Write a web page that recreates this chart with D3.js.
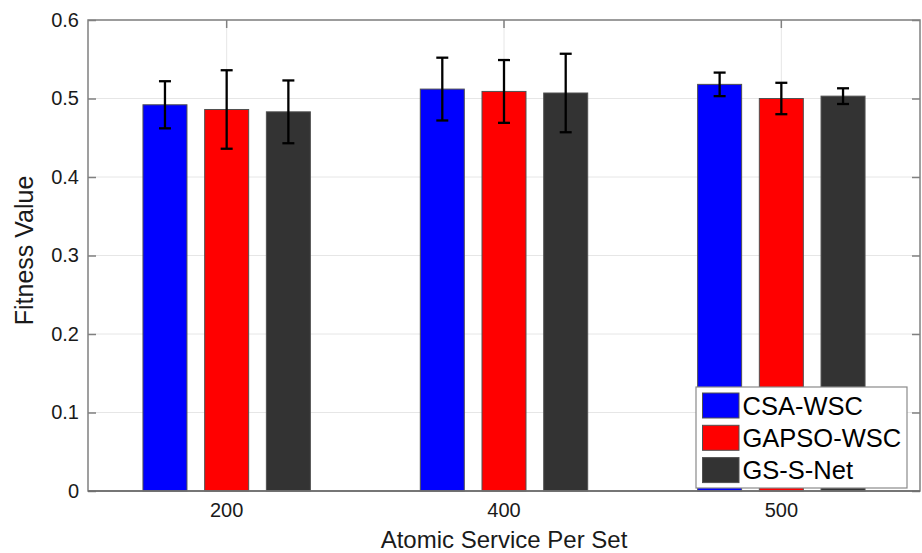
<!DOCTYPE html>
<html>
<head>
<meta charset="utf-8">
<script src="https://cdn.jsdelivr.net/npm/d3@7"></script>
<style>
  html, body { margin: 0; padding: 0; background: #fff; }
  svg { display: block; font-family: "Liberation Sans", Arial, sans-serif; }
</style>
</head>
<body>
<svg id="chart" width="922" height="553"></svg>
<script>
// ---- data ----
const categories = ["200", "400", "500"];
const seriesNames = ["CSA-WSC", "GAPSO-WSC", "GS-S-Net"];
const csaValues   = [0.492, 0.512, 0.518];
const gapsoValues = [0.486, 0.509, 0.500];
const gssValues   = [0.483, 0.507, 0.503];
const csaErrors   = [0.030, 0.040, 0.015];
const gapsoErrors = [0.050, 0.040, 0.020];
const gssErrors   = [0.040, 0.050, 0.010];
const yTicks = [0, 0.1, 0.2, 0.3, 0.4, 0.5, 0.6];
const seriesColors = ["#0000ff", "#ff0000", "#333333"];

const seriesValues = [csaValues, gapsoValues, gssValues];
const seriesErrors = [csaErrors, gapsoErrors, gssErrors];

const svg = d3.select("#chart");
const margin = { left: 88, top: 20, right: 2, bottom: 62 };
const W = 922, H = 553;
const plotL = margin.left, plotR = W - margin.right, plotT = margin.top, plotB = H - margin.bottom;

const x = d3.scaleBand().domain(categories).range([plotL, plotR]).paddingInner(0).paddingOuter(0);
const groupHalf = 83.7;
const xSub = d3.scaleBand().domain(seriesNames).range([-groupHalf, groupHalf]).paddingInner(0.287).paddingOuter(0);
const y = d3.scaleLinear().domain([0, 0.6]).range([plotB, plotT]);

const axisColor = "#808080";
const gridColor = "#e6e6e6";

// grid
const grid = svg.append("g");
grid.selectAll("line.h").data(yTicks).join("line")
  .attr("x1", plotL).attr("x2", plotR)
  .attr("y1", d => y(d)).attr("y2", d => y(d))
  .attr("stroke", gridColor).attr("stroke-width", 1);
grid.selectAll("line.v").data(categories).join("line")
  .attr("x1", d => x(d) + x.bandwidth() / 2).attr("x2", d => x(d) + x.bandwidth() / 2)
  .attr("y1", plotT).attr("y2", plotB)
  .attr("stroke", gridColor).attr("stroke-width", 1);

// axes (ticks inward)
const yAxisL = d3.axisLeft(y).tickValues(yTicks).tickSizeInner(-8).tickSizeOuter(0).tickPadding(9)
  .tickFormat(d => d === 0 ? "0" : d3.format(".1f")(d));
const gy = svg.append("g").attr("transform", `translate(${plotL},0)`).call(yAxisL);
const yAxisR = d3.axisRight(y).tickValues(yTicks).tickSizeInner(-8).tickSizeOuter(0).tickFormat("");
const gyr = svg.append("g").attr("transform", `translate(${plotR},0)`).call(yAxisR);
const xAxisB = d3.axisBottom(x).tickSizeInner(-8).tickSizeOuter(0).tickPadding(12);
const gx = svg.append("g").attr("transform", `translate(0,${plotB})`).call(xAxisB);
const xAxisT = d3.axisTop(x).tickSizeInner(-8).tickSizeOuter(0).tickFormat("");
const gxt = svg.append("g").attr("transform", `translate(0,${plotT})`).call(xAxisT);

[gy, gyr, gx, gxt].forEach(g => {
  g.select(".domain").remove();
  g.selectAll(".tick line").attr("stroke", axisColor).attr("stroke-width", 1.5);
  g.selectAll(".tick text").attr("fill", "#1a1a1a").attr("font-size", 20)
    .attr("font-family", "'Liberation Sans', Arial, sans-serif");
});

// bars
const flat = [];
categories.forEach((c, i) => {
  seriesNames.forEach((s, j) => {
    flat.push({ cat: c, name: s, value: seriesValues[j][i], err: seriesErrors[j][i], color: seriesColors[j] });
  });
});
const cx = d => x(d.cat) + x.bandwidth() / 2;
svg.append("g").selectAll("rect").data(flat).join("rect")
  .attr("x", d => cx(d) + xSub(d.name))
  .attr("width", xSub.bandwidth())
  .attr("y", d => y(d.value))
  .attr("height", d => y(0) - y(d.value))
  .attr("fill", d => d.color)
  .attr("stroke", "#505050").attr("stroke-width", 1);

// error bars
const eb = svg.append("g").attr("stroke", "#000").attr("stroke-width", 2.3).attr("fill", "none");
const capHalf = 6;
const ebCx = d => cx(d) + xSub(d.name) + xSub.bandwidth() / 2;
eb.selectAll("line.stem").data(flat).join("line")
  .attr("x1", ebCx).attr("x2", ebCx)
  .attr("y1", d => y(d.value + d.err)).attr("y2", d => y(d.value - d.err));
eb.selectAll("line.top").data(flat).join("line")
  .attr("x1", d => ebCx(d) - capHalf).attr("x2", d => ebCx(d) + capHalf)
  .attr("y1", d => y(d.value + d.err)).attr("y2", d => y(d.value + d.err));
eb.selectAll("line.bot").data(flat).join("line")
  .attr("x1", d => ebCx(d) - capHalf).attr("x2", d => ebCx(d) + capHalf)
  .attr("y1", d => y(d.value - d.err)).attr("y2", d => y(d.value - d.err));

// box
svg.append("rect")
  .attr("x", plotL).attr("y", plotT)
  .attr("width", plotR - plotL).attr("height", plotB - plotT)
  .attr("fill", "none").attr("stroke", axisColor).attr("stroke-width", 1.5);
svg.append("line").attr("x1", plotL).attr("x2", plotR).attr("y1", plotB).attr("y2", plotB)
  .attr("stroke", "#6a6a6a").attr("stroke-width", 1.5);

// axis labels
svg.append("text")
  .attr("x", (plotL + plotR) / 2).attr("y", 548)
  .attr("text-anchor", "middle").attr("font-size", 24).attr("fill", "#1a1a1a")
  .text("Atomic Service Per Set");
svg.append("text")
  .attr("transform", `translate(33,${(plotT + plotB) / 2 - 5}) rotate(-90)`)
  .attr("text-anchor", "middle").attr("font-size", 25).attr("fill", "#1a1a1a")
  .text("Fitness Value");

// legend
const lg = svg.append("g").attr("transform", "translate(696,387)");
lg.append("rect").attr("width", 211).attr("height", 101)
  .attr("fill", "#fff").attr("stroke", "#8a8a8a").attr("stroke-width", 1.2);
const items = lg.selectAll("g.item").data(seriesNames).join("g")
  .attr("transform", (d, i) => `translate(0,${6 + i * 32.3})`);
items.append("rect").attr("x", 6.5).attr("y", 0).attr("width", 36.5).attr("height", 25)
  .attr("fill", (d, i) => seriesColors[i]).attr("stroke", "#505050").attr("stroke-width", 1);
items.append("text").attr("x", 46.5).attr("y", 21.5)
  .attr("font-size", 25.5).attr("fill", "#000").text(d => d);
</script>
</body>
</html>
